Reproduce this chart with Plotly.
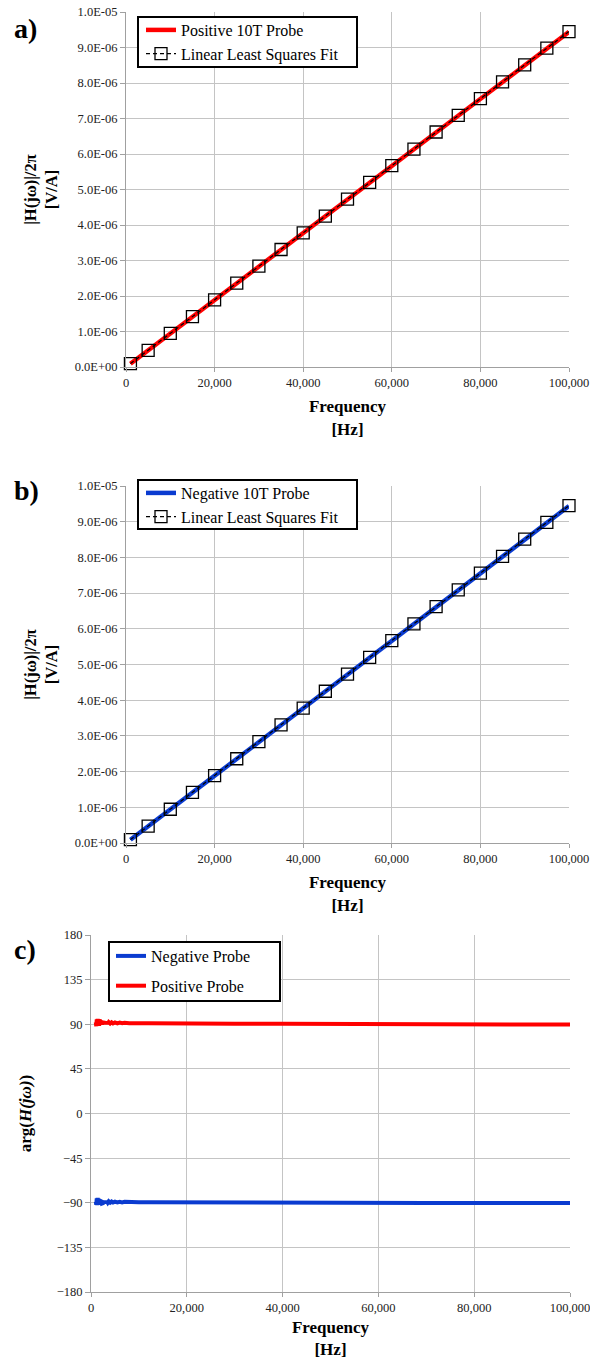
import plotly.graph_objects as go

# ---------------- data ----------------
fit_freq = [1000, 5000, 10000, 15000, 20000, 25000, 30000, 35000, 40000, 45000, 50000,
            55000, 60000, 65000, 70000, 75000, 80000, 85000, 90000, 95000, 100000]
fit_pos = [0.095e-6, 0.47e-6, 0.945e-6, 1.42e-6, 1.89e-6, 2.36e-6, 2.84e-6, 3.31e-6, 3.78e-6,
           4.25e-6, 4.73e-6, 5.20e-6, 5.67e-6, 6.14e-6, 6.62e-6, 7.09e-6, 7.56e-6, 8.03e-6,
           8.51e-6, 8.98e-6, 9.45e-6]
fit_neg = [0.095e-6, 0.47e-6, 0.945e-6, 1.42e-6, 1.89e-6, 2.36e-6, 2.84e-6, 3.31e-6, 3.78e-6,
           4.25e-6, 4.73e-6, 5.20e-6, 5.67e-6, 6.14e-6, 6.62e-6, 7.09e-6, 7.56e-6, 8.03e-6,
           8.51e-6, 8.98e-6, 9.45e-6]

probe_freq = [1000, 10000, 20000, 30000, 40000, 50000, 60000, 70000, 80000, 90000, 100000]
probe_pos = [0.09e-6, 0.94e-6, 1.89e-6, 2.83e-6, 3.78e-6, 4.72e-6, 5.67e-6, 6.61e-6, 7.56e-6, 8.50e-6, 9.44e-6]
probe_neg = [0.09e-6, 0.94e-6, 1.89e-6, 2.83e-6, 3.78e-6, 4.72e-6, 5.67e-6, 6.61e-6, 7.56e-6, 8.50e-6, 9.44e-6]

phase_freq = [1000, 1100, 1200, 1300, 1400, 1500, 1600, 1700, 1800, 1900, 2000, 2100, 2200,
              2300, 2400, 2500, 2650, 2800, 2950, 3100, 3300, 3500, 3700, 4000, 4300, 4600,
              5000, 5500, 6000, 6500, 7000, 8000, 9000, 10000, 12000, 15000,
              20000, 25000, 30000, 40000, 50000, 60000, 70000, 80000, 90000, 100000]
phase_pos = [92.0, 88.0, 95.0, 88.5, 95.5, 89.0, 94.5, 88.5, 95.0, 89.5, 94.0, 90.0, 93.5,
             89.5, 93.5, 90.0, 93.0, 90.2, 92.8, 90.4, 92.5, 90.6, 92.2, 90.8, 92.0, 90.8,
             91.8, 90.9, 91.6, 91.0, 91.5, 91.0, 91.3, 91.0, 91.1, 90.9,
             90.8, 90.7, 90.6, 90.4, 90.2, 90.0, 89.9, 89.8, 89.8, 89.7]
phase_neg = [-89.0, -92.0, -85.5, -92.5, -85.0, -92.0, -86.0, -91.5, -86.5, -91.0, -87.0, -91.0, -87.5,
             -90.8, -87.5, -90.5, -88.0, -90.3, -88.2, -90.2, -88.4, -90.0, -88.6, -89.9, -88.8, -89.8,
             -88.9, -89.7, -89.0, -89.6, -89.1, -89.5, -89.2, -89.4, -89.4, -89.5,
             -89.6, -89.7, -89.8, -89.9, -90.0, -90.1, -90.2, -90.2, -90.3, -90.3]

mag_tickvals = [0, 1e-6, 2e-6, 3e-6, 4e-6, 5e-6, 6e-6, 7e-6, 8e-6, 9e-6, 1e-5]
mag_ticktext = ["0.0E+00", "1.0E-06", "2.0E-06", "3.0E-06", "4.0E-06", "5.0E-06",
                "6.0E-06", "7.0E-06", "8.0E-06", "9.0E-06", "1.0E-05"]
phase_tickvals = [-180, -135, -90, -45, 0, 45, 90, 135, 180]
freq_tickvals = [0, 20000, 40000, 60000, 80000, 100000]

# ---------------- figure ----------------
W, H = 590, 1359
FONT = "Times New Roman"
RED = "#ff0000"
BLUE = "#0a3bd0"
GRID = "#c4c4c4"

def px(pix):
    return pix / W

def py(pix):
    return 1 - pix / H

fig = go.Figure()

fit_line = dict(color="black", width=1.2, dash="4px,3px")
fit_marker = dict(symbol="square-open", size=12, color="black", line=dict(width=1.3))

# panel a
fig.add_trace(go.Scatter(x=probe_freq, y=probe_pos, mode="lines", name="Positive 10T Probe",
                         line=dict(color=RED, width=4.5), xaxis="x", yaxis="y", legend="legend"))
fig.add_trace(go.Scatter(x=fit_freq, y=fit_pos, mode="lines+markers", name="Linear Least Squares Fit",
                         line=fit_line, marker=fit_marker, cliponaxis=False,
                         xaxis="x", yaxis="y", legend="legend"))
# panel b
fig.add_trace(go.Scatter(x=probe_freq, y=probe_neg, mode="lines", name="Negative 10T Probe",
                         line=dict(color=BLUE, width=4.5), xaxis="x2", yaxis="y2", legend="legend2"))
fig.add_trace(go.Scatter(x=fit_freq, y=fit_neg, mode="lines+markers", name="Linear Least Squares Fit",
                         line=fit_line, marker=fit_marker, cliponaxis=False,
                         xaxis="x2", yaxis="y2", legend="legend2"))
# panel c
fig.add_trace(go.Scatter(x=phase_freq, y=phase_neg, mode="lines", name="Negative Probe",
                         legendgroup="neg", line=dict(color=BLUE, width=4),
                         xaxis="x3", yaxis="y3", legend="legend3"))
fig.add_trace(go.Scatter(x=phase_freq, y=phase_pos, mode="lines", name="Positive Probe",
                         legendgroup="pos", line=dict(color=RED, width=4),
                         xaxis="x3", yaxis="y3", legend="legend3"))

tickfont = dict(family=FONT, size=12.5, color="#222")
titlefont = dict(family=FONT, size=17, color="black")
ytitlefont = dict(family=FONT, size=16.5, color="black")

def xaxis(domain, anchor, standoff):
    return dict(domain=domain, anchor=anchor, range=[0, 100000], tickvals=freq_tickvals,
                tickformat=",d", tickfont=tickfont, showgrid=True, gridcolor=GRID, gridwidth=1,
                showline=True, linecolor="#a0a0a0", linewidth=1, ticks="outside", ticklen=4,
                tickcolor="#a0a0a0", zeroline=False, automargin=False,
                ticklabeloverflow="allow",
                title=dict(text="<b>Frequency<br>[Hz]</b>", font=titlefont, standoff=standoff))

def yaxis(domain, anchor, **kw):
    d = dict(domain=domain, anchor=anchor, tickfont=tickfont, showgrid=True, gridcolor=GRID,
             gridwidth=1, showline=True, linecolor="#a0a0a0", linewidth=1, ticks="outside",
             ticklen=5, tickcolor="#a0a0a0", zeroline=False, automargin=False,
             ticklabeloverflow="allow")
    d.update(kw)
    return d

xa = [px(126), px(569)]
xc = [px(91), px(570)]

legend_common = dict(xanchor="left", yanchor="top", bgcolor="rgba(0,0,0,0)",
                     borderwidth=0, font=dict(family=FONT, size=16, color="black"),
                     itemwidth=30)

fig.update_layout(
    width=W, height=H, margin=dict(l=0, r=0, t=0, b=0, autoexpand=False),
    paper_bgcolor="white", plot_bgcolor="white",
    font=dict(family=FONT),
    xaxis=xaxis(xa, "y", 11),
    yaxis=yaxis([py(367), py(12)], "x", range=[0, 1e-5], tickvals=mag_tickvals, ticktext=mag_ticktext,
                title=dict(text="<b>|H(jω)|/2π<br>[V/A]</b>", font=ytitlefont, standoff=12)),
    xaxis2=xaxis(xa, "y2", 11),
    yaxis2=yaxis([py(843), py(486)], "x2", range=[0, 1e-5], tickvals=mag_tickvals, ticktext=mag_ticktext,
                 title=dict(text="<b>|H(jω)|/2π<br>[V/A]</b>", font=ytitlefont, standoff=12)),
    xaxis3=xaxis(xc, "y3", 17),
    yaxis3=yaxis([py(1292), py(935)], "x3", range=[-180, 180], tickvals=phase_tickvals,
                 ticksuffix="°", title=dict(text="<b>arg(<i>H(jω)</i>)</b>", font=titlefont, standoff=20)),
    legend=dict(x=px(141), y=py(13), tracegroupgap=0, **legend_common),
    legend2=dict(x=px(141), y=py(476), tracegroupgap=0, **legend_common),
    legend3=dict(x=px(111), y=py(939), tracegroupgap=6, **legend_common),
    showlegend=True,
)

# legend frames (white fill, black border) drawn behind the legend text
for (x0, y0, x1, y1) in [(138, 17, 357, 67), (138, 480, 357, 529), (109, 942, 280, 1001)]:
    fig.add_shape(type="rect", xref="paper", yref="paper",
                  x0=px(x0), x1=px(x1), y0=py(y1), y1=py(y0),
                  fillcolor="white", line=dict(color="black", width=2), layer="above")

for label, ypix in [("a)", 29), ("b)", 490), ("c)", 949)]:
    fig.add_annotation(text=f"<b>{label}</b>", x=px(12), y=py(ypix), xref="paper", yref="paper",
                       xanchor="left", yanchor="middle", showarrow=False,
                       font=dict(family=FONT, size=28, color="black"))

fig.write_html("out.html", config={"displayModeBar": False},
               post_script="document.body.style.margin='0';")
